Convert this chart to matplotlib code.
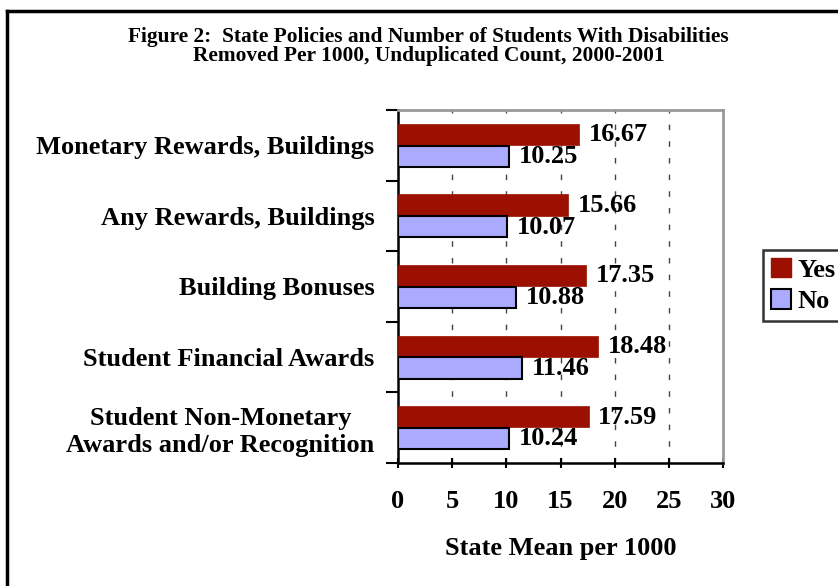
import matplotlib
matplotlib.use("Agg")
import matplotlib.pyplot as plt
from matplotlib.patches import Patch
import numpy as np

categories = ["Monetary Rewards, Buildings", "Any Rewards, Buildings", "Building Bonuses",
              "Student Financial Awards", "Student Non-Monetary\nAwards and/or Recognition"]
yes_vals = [16.67, 15.66, 17.35, 18.48, 17.59]
no_vals = [10.25, 10.07, 10.88, 11.46, 10.24]
xticks = [0, 5, 10, 15, 20, 25, 30]
title = "Figure 2:  State Policies and Number of Students With Disabilities\nRemoved Per 1000, Unduplicated Count, 2000-2001"

plt.rcParams['font.family'] = ['Liberation Serif', 'DejaVu Serif']
plt.rcParams['font.weight'] = 'bold'

fig = plt.figure(figsize=(8.38, 5.86), dpi=100)
ax = fig.add_axes([0.475, 0.2099, 0.3878, 0.6024])

y = np.arange(len(categories))
h = 0.30
ax.barh(y - 0.155, yes_vals, height=h, color='#9B1000', edgecolor='#9B1000', linewidth=0.5, zorder=3, label='Yes')
ax.barh(y + 0.155, no_vals, height=h, color='#AAAAFF', edgecolor='black', linewidth=1.5, zorder=3, label='No')

FS = 19
for i, (a, b) in enumerate(zip(yes_vals, no_vals)):
    ax.text(a + 0.9, i - 0.15, f"{a:.2f}", va='center', ha='left', fontsize=FS, fontweight='bold', zorder=5)
    ax.text(b + 0.9, i + 0.16, f"{b:.2f}", va='center', ha='left', fontsize=FS, fontweight='bold', zorder=5)

ax.set_xlim(0, 30)
ax.set_ylim(4.5, -0.5)
ax.set_xticks(xticks)
ax.set_xticklabels([str(t) for t in xticks], fontsize=FS, fontweight='bold')
ax.set_yticks(y)
ax.set_yticklabels(categories, fontsize=FS, fontweight='bold', ha='right', multialignment='center')
ax.set_yticks(np.arange(-0.5, 5.0, 1.0), minor=True)
ax.tick_params(axis='y', which='major', length=0, pad=17)
ax.tick_params(axis='y', which='minor', length=9, width=1.5, direction='out')
ax.tick_params(axis='x', which='major', length=7, width=1.5, direction='inout', pad=16)

for xv in xticks[1:-1]:
    ax.axvline(xv, color='#444444', linestyle=(0, (4, 8)), linewidth=1, zorder=1)

ax.spines['left'].set_linewidth(1.8)
ax.spines['bottom'].set_linewidth(1.8)
ax.spines['top'].set_color('#999999')
ax.spines['right'].set_color('#999999')
ax.spines['top'].set_linewidth(2)
ax.spines['right'].set_linewidth(2)

ax.set_xlabel("State Mean per 1000", fontsize=FS, fontweight='bold', labelpad=17)

fig.text(428.5/838, 1 - 27/586, title, ha='center', va='top', fontsize=15.4, fontweight='bold', linespacing=0.95)

handles = [Patch(facecolor='#9B1000', edgecolor='#9B1000', label='Yes'),
           Patch(facecolor='#AAAAFF', edgecolor='black', linewidth=1.5, label='No')]
leg = fig.legend(handles=handles, loc='upper left', bbox_to_anchor=(763/838, 1 - 250/586),
                 frameon=True, fancybox=False, edgecolor='black',
                 prop={'weight': 'bold', 'size': FS}, handlelength=0.75, handleheight=0.75,
                 handletextpad=0.25, borderpad=0.3, labelspacing=0.28, borderaxespad=0)
leg.get_frame().set_linewidth(1.8)

# figure border (left and top)
fig.add_artist(plt.Line2D([7/838, 7/838], [0, 1 - 11/586], color='black', linewidth=2.5, transform=fig.transFigure))
fig.add_artist(plt.Line2D([7/838, 1], [1 - 11/586, 1 - 11/586], color='black', linewidth=2.5, transform=fig.transFigure))

fig.savefig("out.png", dpi=100)
